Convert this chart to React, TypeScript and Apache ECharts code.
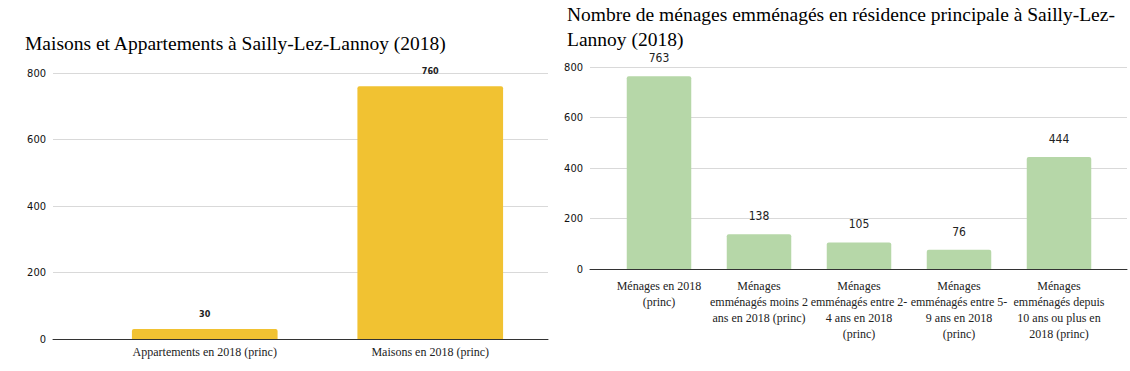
import React, { useEffect, useRef } from "react";
import * as echarts from "echarts";

const leftTitle = "Maisons et Appartements à Sailly-Lez-Lannoy (2018)";
const leftCategories = ["Appartements en 2018 (princ)", "Maisons en 2018 (princ)"];
const leftValues = [30, 760];

const rightTitle = "Nombre de ménages emménagés en résidence principale à Sailly-Lez-\nLannoy (2018)";
const rightCategories = [
  "Ménages en 2018\n(princ)",
  "Ménages\nemménagés moins 2\nans en 2018 (princ)",
  "Ménages\nemménagés entre 2-\n4 ans en 2018\n(princ)",
  "Ménages\nemménagés entre 5-\n9 ans en 2018\n(princ)",
  "Ménages\nemménagés depuis\n10 ans ou plus en\n2018 (princ)",
];
const rightValues = [763, 138, 105, 76, 444];

const yTicks = { min: 0, max: 800, interval: 200 };

const SERIF = "'Liberation Serif', 'Times New Roman', serif";
const SANS = "'Liberation Sans Narrow', 'DejaVu Sans Condensed', 'Liberation Sans', sans-serif";
const GRID_COLOR = "#d9d9d9";
const AXIS_COLOR = "#333333";

export default function App() {
  const ref = useRef<HTMLDivElement>(null);
  useEffect(() => {
    if (!ref.current) return;
    const chart = echarts.init(ref.current, undefined, { renderer: "svg" });
    const bgY = (gridIndex: number) => ({
      type: "value",
      gridIndex,
      ...yTicks,
      axisLine: { show: false },
      axisTick: { show: false },
      axisLabel: { color: "#111", fontFamily: SANS, fontSize: 11, margin: 7 },
      splitLine: { lineStyle: { color: GRID_COLOR, width: 1 } },
    });
    const hiddenY = (gridIndex: number) => ({
      type: "value",
      gridIndex,
      ...yTicks,
      show: false,
      splitLine: { show: false },
    });
    const bgX = (gridIndex: number) => ({
      type: "category",
      gridIndex,
      data: [""],
      axisLine: { lineStyle: { color: AXIS_COLOR, width: 1 } },
      axisTick: { show: false },
      axisLabel: { show: false },
    });
    chart.setOption({
      animation: false,
      backgroundColor: "#ffffff",
      title: [
        {
          text: leftTitle,
          left: 25,
          top: 33,
          padding: 0,
          textStyle: { fontFamily: SERIF, fontSize: 19.5, fontWeight: "normal", color: "#000" },
        },
        {
          text: rightTitle,
          left: 567,
          top: 2,
          padding: 0,
          textStyle: { fontFamily: SERIF, fontSize: 19.5, fontWeight: "normal", color: "#000", lineHeight: 25 },
        },
      ],
      grid: [
        { left: 53, right: 582, top: 73, bottom: 32 },
        { left: 92, right: 587, top: 73, bottom: 32 },
        { left: 590, right: 3, top: 67, bottom: 102 },
        { left: 609, right: 21, top: 67, bottom: 102 },
      ],
      xAxis: [
        bgX(0),
        {
          type: "category",
          gridIndex: 1,
          data: leftCategories,
          axisLine: { show: false },
          axisTick: { show: false },
          axisLabel: { fontFamily: SERIF, fontSize: 12, color: "#222", margin: 7, interval: 0 },
        },
        bgX(2),
        {
          type: "category",
          gridIndex: 3,
          data: rightCategories,
          axisLine: { show: false },
          axisTick: { show: false },
          axisLabel: { fontFamily: SERIF, fontSize: 12, color: "#222", margin: 9, interval: 0, lineHeight: 16 },
        },
      ],
      yAxis: [bgY(0), hiddenY(1), bgY(2), hiddenY(3)],
      series: [
        {
          type: "bar",
          xAxisIndex: 1,
          yAxisIndex: 1,
          data: leftValues,
          barWidth: "64.6%",
          itemStyle: { color: "#f1c232", borderRadius: [2, 2, 0, 0] },
          label: {
            show: true,
            position: "top",
            distance: 11,
            fontFamily: SANS,
            fontSize: 9,
            fontWeight: "bold",
            color: "#222",
          },
        },
        {
          type: "bar",
          xAxisIndex: 3,
          yAxisIndex: 3,
          data: rightValues,
          barWidth: "64.5%",
          itemStyle: { color: "#b6d7a8", borderRadius: [2, 2, 0, 0] },
          label: {
            show: true,
            position: "top",
            distance: 12,
            fontFamily: SANS,
            fontSize: 12,
            color: "#222",
          },
        },
      ],
    });
    return () => chart.dispose();
  }, []);
  return (
    <div
      ref={ref}
      style={{ position: "absolute", left: 0, top: 0, width: 1130, height: 371 }}
    />
  );
}
